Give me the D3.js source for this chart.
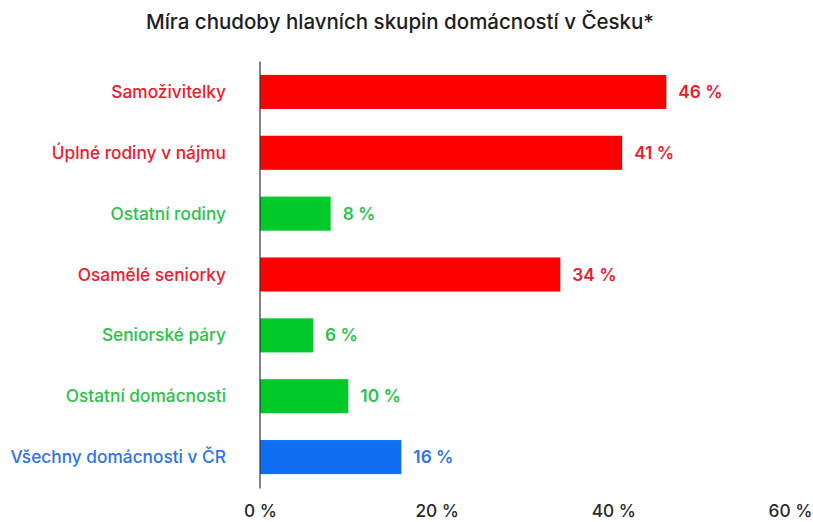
<!DOCTYPE html>
<html>
<head>
<meta charset="utf-8">
<script src="https://cdn.jsdelivr.net/npm/d3@7"></script>
<style>
  body { margin: 0; background: #fff; }
  text { font-family: Inter, "Open Sans", sans-serif; }
</style>
</head>
<body>
<script>
// data
const categories = ["Samoživitelky", "Úplné rodiny v nájmu", "Ostatní rodiny", "Osamělé seniorky",
                    "Seniorské páry", "Ostatní domácnosti", "Všechny domácnosti v ČR"];
const values = [46, 41, 8, 34, 6, 10, 16];
const groups = ["high", "high", "low", "high", "low", "low", "all"];
const xTicks = [0, 20, 40, 60];

const barColor = { high: "#ff0000", low: "#00c92a", all: "#0f6ff2" };
const textColor = { high: "#e8202e", low: "#2cc24a", all: "#2f74e6" };

const width = 813, height = 522;
const margin = { left: 260, right: 23, top: 61.5, bottom: 34.5 };

const svg = d3.select("body").append("svg")
  .attr("width", width)
  .attr("height", height);

svg.append("text")
  .attr("x", 400)
  .attr("y", 29)
  .attr("text-anchor", "middle")
  .attr("font-size", 20.5)
  .attr("font-weight", 450)
  .attr("fill", "#1e1e1e")
  .text("Míra chudoby hlavních skupin domácností v Česku*");

const x = d3.scaleLinear()
  .domain([0, 60])
  .range([margin.left, 790]);

const y = d3.scaleBand()
  .domain(categories)
  .range([margin.top, height - margin.bottom])
  .paddingInner(0.44)
  .paddingOuter(0.22);

// bars
svg.selectAll("rect.bar")
  .data(categories)
  .enter()
  .append("rect")
  .attr("class", "bar")
  .attr("x", x(0))
  .attr("y", d => y(d))
  .attr("width", (d, i) => x(values[i]) - x(0))
  .attr("height", y.bandwidth())
  .attr("fill", (d, i) => barColor[groups[i]]);

// vertical axis line
svg.append("line")
  .attr("x1", x(0)).attr("x2", x(0))
  .attr("y1", margin.top).attr("y2", height - margin.bottom + 1)
  .attr("stroke", "#333")
  .attr("stroke-width", 1.2);

// category labels
svg.selectAll("text.cat")
  .data(categories)
  .enter()
  .append("text")
  .attr("class", "cat")
  .attr("x", 226)
  .attr("y", d => y(d) + y.bandwidth() / 2)
  .attr("dy", "0.35em")
  .attr("text-anchor", "end")
  .attr("font-size", 17.3)
  .attr("font-weight", 500)
  .attr("fill", (d, i) => textColor[groups[i]])
  .text(d => d);

// value labels
svg.selectAll("text.val")
  .data(categories)
  .enter()
  .append("text")
  .attr("class", "val")
  .attr("x", (d, i) => x(values[i]) + 12)
  .attr("y", d => y(d) + y.bandwidth() / 2)
  .attr("dy", "0.35em")
  .attr("font-size", 17.3)
  .attr("font-weight", 600)
  .attr("fill", (d, i) => textColor[groups[i]])
  .text((d, i) => values[i] + " %");

// x tick labels
const xAxis = d3.axisBottom(x)
  .tickValues(xTicks)
  .tickSize(0)
  .tickFormat(d => d + " %");

const gx = svg.append("g")
  .attr("transform", "translate(0," + 502 + ")")
  .call(xAxis);
gx.select(".domain").remove();
gx.selectAll("text")
  .attr("font-family", "Inter, 'Open Sans', sans-serif")
  .attr("font-size", 17.3)
  .attr("font-weight", 450)
  .attr("fill", "#2a2a2a");
</script>
</body>
</html>
